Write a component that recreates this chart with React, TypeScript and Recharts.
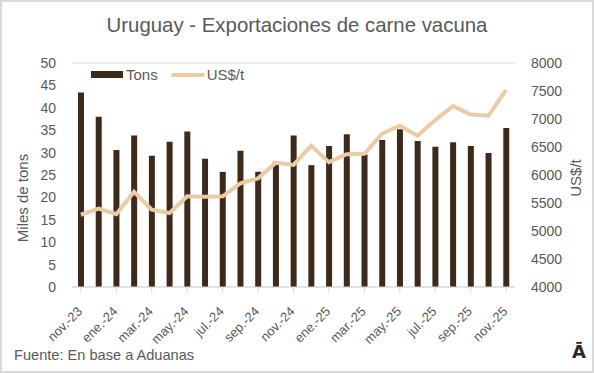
import { ComposedChart, Bar, Line, XAxis, YAxis, CartesianGrid } from "recharts"

const months = [
  "nov.-23", "dic.-23", "ene.-24", "feb.-24", "mar.-24", "abr.-24", "may.-24", "jun.-24", "jul.-24",
  "ago.-24", "sep.-24", "oct.-24", "nov.-24", "dic.-24", "ene.-25", "feb.-25", "mar.-25", "abr.-25",
  "may.-25", "jun.-25", "jul.-25", "ago.-25", "sep.-25", "oct.-25", "nov.-25",
]

// miles de toneladas
const tons = [
  43.4, 38.0, 30.6, 33.8, 29.3, 32.4, 34.7, 28.6, 25.7, 30.4, 25.7, 28.0, 33.8,
  27.2, 31.5, 34.1, 29.6, 32.8, 35.2, 32.6, 31.3, 32.3, 31.5, 29.9, 35.5,
]

// precio medio US$/t
const price = [
  5290, 5400, 5300, 5700, 5380, 5320, 5620, 5610, 5620, 5850, 5940, 6220, 6180,
  6520, 6230, 6370, 6380, 6740, 6880, 6700, 6980, 7230, 7080, 7060, 7520,
]

const leftTicks = [0, 5, 10, 15, 20, 25, 30, 35, 40, 45, 50]
const rightTicks = [4000, 4500, 5000, 5500, 6000, 6500, 7000, 7500, 8000]

const data = months.map((m, i) => ({ month: m, tons: tons[i], price: price[i] }))

const BAR = "#3d2a1c"
const LINE = "#ebcba4"
const TXT = "#595959"
const FONT = "'Liberation Sans', Arial, sans-serif"

function MonthTick(props: any) {
  const { x, y, payload } = props
  const ax = x - 1
  const ay = y + 14
  return (
    <text
      x={ax}
      y={ay}
      transform={`rotate(-45, ${ax}, ${ay})`}
      textAnchor="end"
      fill={TXT}
      fontSize={13}
      fontFamily={FONT}
      dominantBaseline="central"
    >
      {payload.value}
    </text>
  )
}

export default function App() {
  return (
    <div
      style={{
        position: "absolute",
        left: 0,
        top: 0,
        width: 594,
        height: 373,
        background: "#fff",
        boxSizing: "border-box",
        border: "2px solid #d9d9d9",
        fontFamily: FONT,
        color: TXT,
      }}
    >
      <div style={{ position: "absolute", left: 0, top: 0 }}>
        <ComposedChart
          width={590}
          height={369}
          data={data}
          margin={{ top: 61, right: 4, bottom: 0, left: 0 }}
        >
          <CartesianGrid vertical={false} stroke="#d9d9d9" />
          <XAxis
            dataKey="month"
            interval={1}
            tick={<MonthTick />}
            tickLine={{ stroke: "#d9d9d9" }}
            axisLine={{ stroke: "#d9d9d9" }}
            height={84}
          />
          <YAxis
            yAxisId="l"
            domain={[0, 50]}
            ticks={leftTicks}
            width={70}
            axisLine={false}
            tickLine={false}
            tick={{ fill: TXT, fontSize: 14, fontFamily: FONT }}
            tickMargin={10}
          />
          <YAxis
            yAxisId="r"
            orientation="right"
            domain={[4000, 8000]}
            ticks={rightTicks}
            width={73}
            axisLine={false}
            tickLine={false}
            tick={{ fill: TXT, fontSize: 14, fontFamily: FONT, textAnchor: "start" }}
            tickMargin={10}
          />
          <Bar yAxisId="l" dataKey="tons" fill={BAR} barSize={6} isAnimationActive={false} />
          <Line
            yAxisId="r"
            dataKey="price"
            stroke={LINE}
            strokeWidth={4}
            dot={false}
            type="linear"
            isAnimationActive={false}
          />
        </ComposedChart>
      </div>

      <div style={{ position: "absolute", left: 0, width: 590, top: 12, textAlign: "center", fontSize: 20.4 }}>
        Uruguay - Exportaciones de carne vacuna
      </div>

      <div style={{ position: "absolute", left: 89, top: 64, display: "flex", alignItems: "center", fontSize: 15 }}>
        <span style={{ display: "inline-block", width: 32, height: 7, background: BAR, marginRight: 3 }} />
        <span>Tons</span>
        <span style={{ display: "inline-block", width: 34, height: 4, background: LINE, marginLeft: 13, marginRight: 2, borderRadius: 2 }} />
        <span>US$/t</span>
      </div>

      <div
        style={{
          position: "absolute",
          left: 20,
          top: 196,
          fontSize: 15,
          transform: "translate(-50%, -50%) rotate(-90deg)",
          whiteSpace: "nowrap",
        }}
      >
        Miles de tons
      </div>
      <div
        style={{
          position: "absolute",
          left: 573,
          top: 176,
          fontSize: 15,
          transform: "translate(-50%, -50%) rotate(-90deg)",
          whiteSpace: "nowrap",
        }}
      >
        US$/t
      </div>

      <div style={{ position: "absolute", left: 12, top: 345, fontSize: 14.6 }}>Fuente: En base a Aduanas</div>
      <div style={{ position: "absolute", left: 570, top: 339, fontSize: 18, fontWeight: "bold", color: "#33261c", fontFamily: "'DejaVu Sans', sans-serif" }}>
        Ā
      </div>
    </div>
  )
}
